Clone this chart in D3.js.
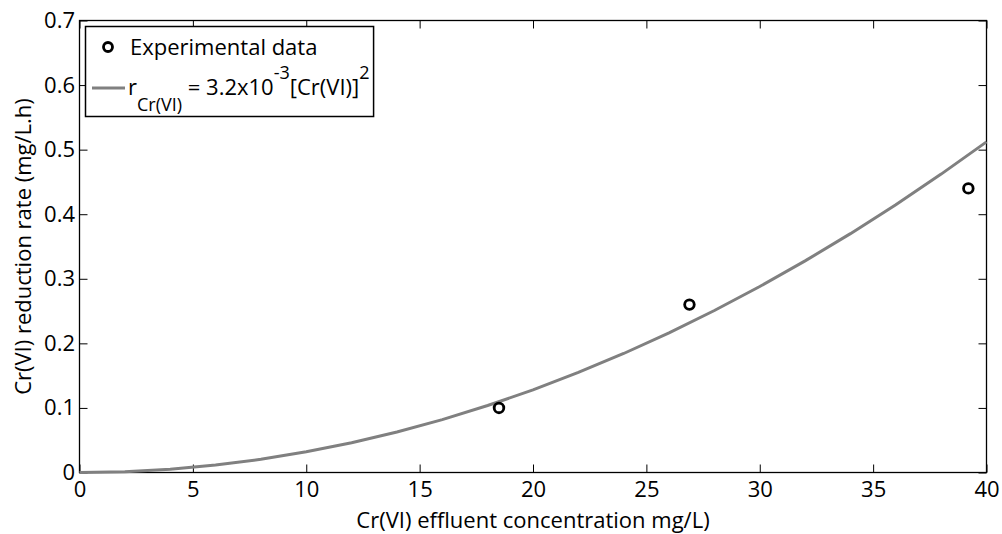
<!DOCTYPE html>
<html>
<head>
<meta charset="utf-8">
<script src="https://cdn.jsdelivr.net/npm/d3@7"></script>
<style>
  body { margin:0; background:#fff; }
  text { font-family:"Open Sans", sans-serif; fill:#000; }
</style>
</head>
<body>
<svg id="chart" width="1002" height="534"></svg>
<script>
// experimental points
const expConc = [18.5, 26.9, 39.2];
const expRate = [0.10, 0.26, 0.44];
// model curve
const modelConc = [0, 2, 4, 6, 8, 10, 12, 14, 16, 18, 20, 22, 24, 26, 28, 30, 32, 34, 36, 38, 40];
const modelRate = [0, 0.0013, 0.0051, 0.0115, 0.0205, 0.032, 0.0461, 0.0627, 0.0819, 0.1037, 0.128, 0.1549, 0.1843, 0.2163, 0.2509, 0.288, 0.3277, 0.3699, 0.4147, 0.4621, 0.512];
const xTicks = [0, 5, 10, 15, 20, 25, 30, 35, 40];
const yTicks = [0, 0.1, 0.2, 0.3, 0.4, 0.5, 0.6, 0.7];

let svg = d3.select("#chart");
let pLeft = 79.5, pRight = 986.5, pTop = 20.5, pBottom = 472.5;
let fs = 22, fsSmall = 18;

let x = d3.scaleLinear().domain([0, 40]).range([pLeft, pRight]);
let y = d3.scaleLinear().domain([0, 0.7]).range([pBottom, pTop]);

// ticks point inward on all four sides (matlab box)
let fmtY = d => d === 0 ? "0" : d3.format(".1f")(d);
svg.append("g").attr("transform", "translate(0," + pBottom + ")")
   .call(d3.axisBottom(x).tickValues(xTicks).tickSizeInner(-8).tickSizeOuter(0).tickPadding(9))
   .call(g => g.select(".domain").remove())
   .call(g => g.selectAll("line").attr("stroke", "#000"))
   .call(g => g.selectAll("text").attr("font-size", fs).attr("font-family", "Open Sans"));
svg.append("g").attr("transform", "translate(0," + pTop + ")")
   .call(d3.axisTop(x).tickValues(xTicks).tickSizeInner(-8).tickSizeOuter(0).tickFormat(""))
   .call(g => g.select(".domain").remove())
   .call(g => g.selectAll("line").attr("stroke", "#000"));
svg.append("g").attr("transform", "translate(" + pLeft + ",0)")
   .call(d3.axisLeft(y).tickValues(yTicks).tickSizeInner(-8).tickSizeOuter(0).tickPadding(4.5).tickFormat(fmtY))
   .call(g => g.select(".domain").remove())
   .call(g => g.selectAll("line").attr("stroke", "#000"))
   .call(g => g.selectAll("text").attr("font-size", fs).attr("font-family", "Open Sans"));
svg.append("g").attr("transform", "translate(" + pRight + ",0)")
   .call(d3.axisRight(y).tickValues(yTicks).tickSizeInner(-8).tickSizeOuter(0).tickFormat(""))
   .call(g => g.select(".domain").remove())
   .call(g => g.selectAll("line").attr("stroke", "#000"));

svg.append("rect")
   .attr("x", pLeft).attr("y", pTop)
   .attr("width", pRight - pLeft).attr("height", pBottom - pTop)
   .attr("fill", "none").attr("stroke", "#000").attr("stroke-width", 1.3);

// model line
let line = d3.line().x(d => x(d[0])).y(d => y(d[1]));
svg.append("path")
   .datum(modelConc.map((c, i) => [c, modelRate[i]]))
   .attr("d", line)
   .attr("fill", "none").attr("stroke", "#808080").attr("stroke-width", 3);

// experimental data
svg.selectAll(".pt")
   .data(expConc.map((c, i) => [c, expRate[i]]))
   .enter().append("circle")
   .attr("class", "pt")
   .attr("cx", d => x(d[0])).attr("cy", d => y(d[1]))
   .attr("r", 4.8)
   .attr("fill", "none").attr("stroke", "#000").attr("stroke-width", 2.8);

// axis titles
svg.append("text")
   .attr("x", (pLeft + pRight) / 2).attr("y", 528)
   .attr("text-anchor", "middle").attr("font-size", fs)
   .text("Cr(VI) effluent concentration mg/L)");
svg.append("text")
   .attr("transform", "translate(31," + (pTop + pBottom) / 2 + ") rotate(-90)")
   .attr("text-anchor", "middle").attr("font-size", fs)
   .text("Cr(VI) reduction rate (mg/L.h)");

// legend
let lg = svg.append("g");
let box = lg.append("rect")
   .attr("x", 85.5).attr("y", 26.5).attr("height", 90)
   .attr("fill", "#fff").attr("stroke", "#000").attr("stroke-width", 1.5);
lg.append("circle").attr("cx", 108).attr("cy", 47).attr("r", 4.5)
  .attr("fill", "none").attr("stroke", "#000").attr("stroke-width", 2.8);
lg.append("text").attr("x", 130).attr("y", 55).attr("font-size", fs).text("Experimental data");
lg.append("line").attr("x1", 92).attr("x2", 125).attr("y1", 88).attr("y2", 88)
  .attr("stroke", "#808080").attr("stroke-width", 3);
let eq = lg.append("text").attr("x", 128).attr("y", 95).attr("font-size", fs);
eq.append("tspan").text("r");
eq.append("tspan").attr("dy", 16).attr("font-size", fsSmall).text("Cr(VI)");
eq.append("tspan").attr("dy", -16).text(" = 3.2x10");
eq.append("tspan").attr("dy", -16).attr("font-size", fsSmall).text("-3");
eq.append("tspan").attr("dy", 16).text("[Cr(VI)]");
eq.append("tspan").attr("dy", -16).attr("font-size", fsSmall).text("2");
let bb = eq.node().getBBox();
box.attr("width", bb.x + bb.width + 4 - 85.5);
</script>
</body>
</html>
